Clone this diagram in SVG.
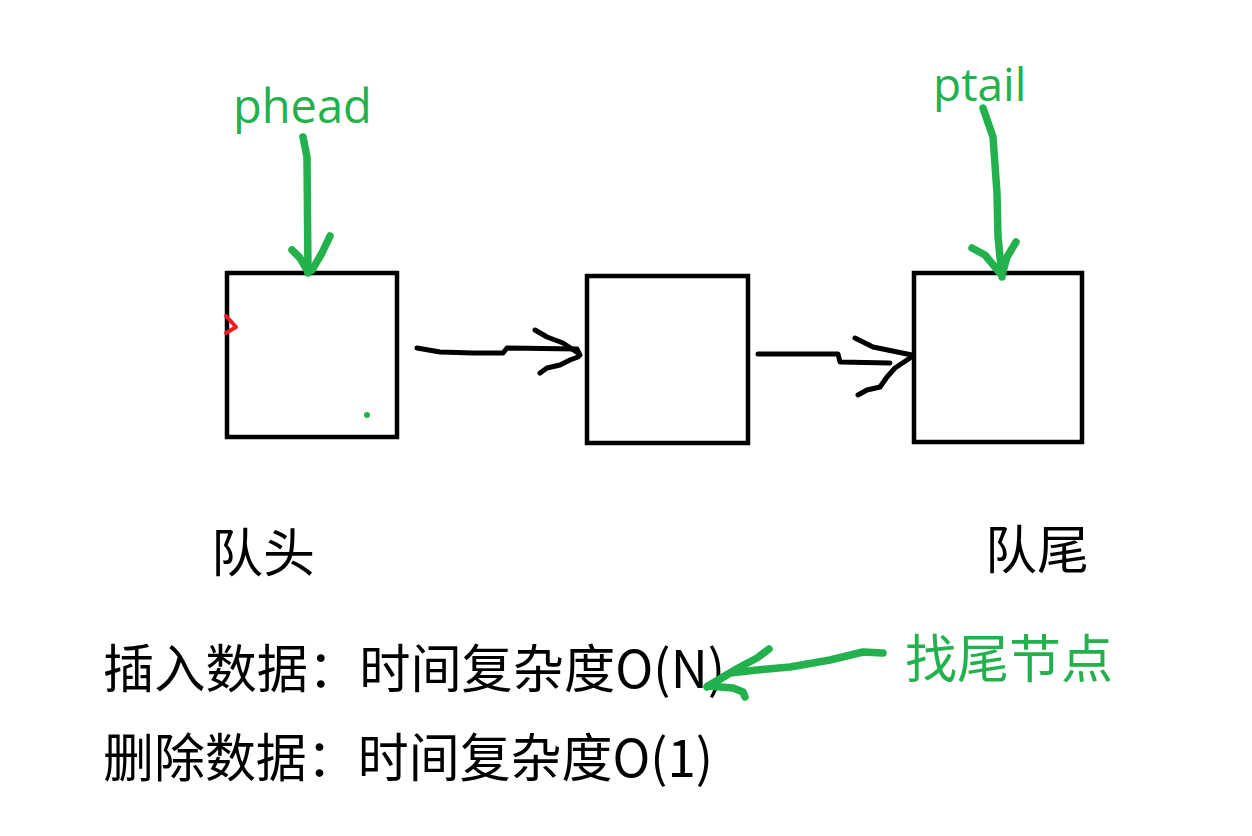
<svg xmlns="http://www.w3.org/2000/svg" width="1252" height="836" viewBox="0 0 1252 836">
<style>
.box{fill:none;stroke:#000;stroke-width:4.5}
.blk{fill:none;stroke:#000;stroke-width:5;stroke-linecap:round;stroke-linejoin:round}
.grn{fill:none;stroke:#22B14C;stroke-width:7.5;stroke-linecap:round;stroke-linejoin:round}
.lbl{font-family:"Open Sans","Noto Sans",sans-serif;fill:#22B14C}
.cjk{font-family:"Noto Sans CJK SC","Noto Sans",sans-serif;font-size:52px;fill:#000}
.cjkg{font-family:"Noto Sans CJK SC","Noto Sans",sans-serif;font-size:52px;fill:#22B14C}
</style>
<rect width="1252" height="836" fill="#fff"/>
<g id="node-head">
<rect class="box" x="227" y="273" width="170" height="164"/>
<path d="M226,316 L236,327 L226,333" fill="none" stroke="#ED1C24" stroke-width="4" stroke-linecap="round" stroke-linejoin="round"/>
<circle cx="367" cy="415" r="3" fill="#22B14C"/>
</g>
<g id="node-mid">
<rect class="box" x="587" y="276" width="161" height="167"/>
</g>
<g id="node-tail">
<rect class="box" x="914" y="273" width="168" height="169"/>
</g>
<g id="labels">
<text class="lbl" x="233" y="123" font-size="47">phead</text>
<text class="lbl" x="933" y="101" font-size="46">ptail</text>
<text class="cjk" x="211" y="572">队头</text>
<text class="cjk" x="985" y="569">队尾</text>
<text class="cjk" x="103" y="688" textLength="622" lengthAdjust="spacingAndGlyphs">插入数据：时间复杂度O(N)</text>
<text class="cjk" x="103" y="777" textLength="610" lengthAdjust="spacingAndGlyphs">删除数据：时间复杂度O(1)</text>
<text class="cjkg" x="905" y="678">找尾节点</text>
</g>
<g id="connectors">
<path class="grn" d="M303,137 L307,157 L308,273"/>
<path class="grn" d="M292,250 L300,258 L308,272"/>
<path class="grn" d="M330,236 L322,253 L312,270"/>
<path class="grn" d="M983,108 L993,137 L997,193 L998,237 L1002,277"/>
<path class="grn" d="M972,248 L985,255 L1000,273"/>
<path class="grn" d="M1016,242 L1007,257 L1002,275"/>
<path class="blk" d="M417,348 L440,352 L473,353 L503,353 L507,348 L577,349 L580,355"/>
<path class="blk" d="M535,330 L547,337 L563,343 L578,353"/>
<path class="blk" d="M540,373 L547,368 L560,365 L570,360 L578,357"/>
<path class="blk" d="M758,354 L838,354 L840,362 L890,363"/>
<path class="blk" d="M855,338 L873,347 L912,355"/>
<path class="blk" d="M858,395 L867,390 L880,387 L887,377 L895,368 L910,358"/>
<path class="grn" d="M883,653 L863,652 L830,660 L790,667 L757,670 L730,673 L707,687"/>
<path class="grn" d="M769,649 L757,658 L740,667 L708,686"/>
<path class="grn" d="M708,686 L733,688 L743,692 L745,697"/>
</g>
</svg>
